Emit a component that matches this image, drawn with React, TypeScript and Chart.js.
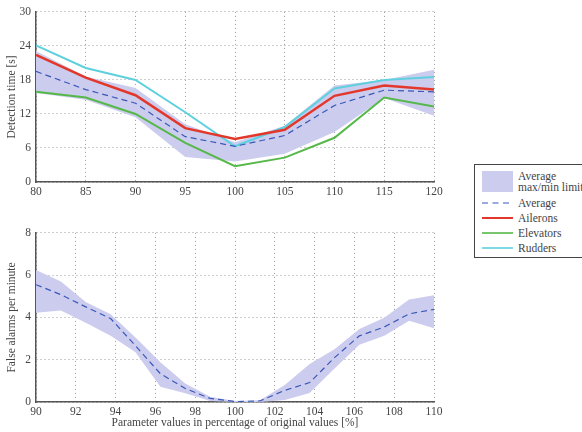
import React, { useEffect, useRef } from 'react';
import { Chart, registerables } from 'chart.js';

Chart.register(...registerables);

// ---- Data: top chart (detection time) ----
const topX = [80, 85, 90, 95, 100, 105, 110, 115, 120];
const topAvg = [19.5, 16.3, 13.9, 8.0, 6.3, 8.2, 13.5, 16.2, 15.9];
const topMax = [23.1, 18.6, 16.6, 10.2, 7.0, 9.9, 17.0, 18.0, 19.8];
const topMin = [15.7, 14.5, 11.4, 4.4, 3.6, 5.0, 8.8, 14.8, 11.7];
const ailerons = [22.4, 18.4, 15.3, 9.5, 7.6, 9.2, 15.2, 17.0, 16.3];
const elevators = [15.9, 14.9, 12.0, 6.9, 2.8, 4.3, 7.8, 14.9, 13.3];
const rudders = [24.1, 20.1, 18.0, 12.3, 6.3, 9.7, 16.5, 18.0, 18.5];

// ---- Data: bottom chart (false alarms) ----
const botX = [90, 91.25, 92.5, 93.75, 95, 96.25, 97.5, 98.75, 100, 101.25, 102.5, 103.75, 105, 106.25, 107.5, 108.75, 110];
const botAvg = [5.55, 5.08, 4.5, 3.95, 2.66, 1.34, 0.64, 0.17, 0.02, 0.05, 0.55, 0.92, 2.1, 3.13, 3.55, 4.17, 4.38];
const botMax = [6.25, 5.7, 4.73, 4.15, 3.05, 1.88, 0.87, 0.25, 0.05, 0.08, 0.8, 1.8, 2.5, 3.45, 3.99, 4.85, 5.05];
const botMin = [4.22, 4.33, 3.75, 3.13, 2.35, 0.72, 0.41, 0.05, 0, 0, 0.1, 0.43, 1.58, 2.71, 3.13, 3.84, 3.49];

const topTitle = 'Detection time [s]';
const botTitleY = 'False alarms per minute';
const botTitleX = 'Parameter values in percentage of original values [%]';
const legendLabels = ['Average', 'max/min limit', 'Average', 'Ailerons', 'Elevators', 'Rudders'];

const FONT = "'Liberation Serif', 'DejaVu Serif', serif";
const BAND = 'rgb(204,204,238)';
const BLUE = '#3a58b8';
const RED = '#e2382b';
const GREEN = '#55b849';
const CYAN = '#5fd0de';
const TEXT = '#444444';
const AXIS = '#555555';
const GRID = '#9a9a9a';

const pts = (xs: number[], ys: number[]) => xs.map((x, i) => ({ x, y: ys[i] }));

function makeScales(xmin: number, xmax: number, xstep: number, ymin: number, ymax: number, ystep: number, yTitle: string, xTitle: string | null, xHeight: number) {
  return {
    x: {
      type: 'linear' as const,
      min: xmin,
      max: xmax,
      ticks: { stepSize: xstep, color: TEXT, font: { family: FONT, size: 11.5 }, padding: 3, maxRotation: 0 },
      grid: { color: GRID, lineWidth: 1, drawTicks: false },
      border: { display: true, color: AXIS, width: 1.5, dash: [1, 3] },
      title: xTitle
        ? { display: true, text: xTitle, color: TEXT, font: { family: FONT, size: 11.5 }, padding: { top: 0, bottom: 2 } }
        : { display: false },
      afterFit: (s: any) => { s.height = xHeight; },
    },
    y: {
      type: 'linear' as const,
      min: ymin,
      max: ymax,
      ticks: { stepSize: ystep, color: TEXT, font: { family: FONT, size: 11.5 }, padding: 5 },
      grid: { color: GRID, lineWidth: 1, drawTicks: false },
      border: { display: true, color: AXIS, width: 1.5, dash: [1, 3] },
      title: { display: true, text: yTitle, color: TEXT, font: { family: FONT, size: 11.5 }, padding: { top: 5, bottom: 0 } },
      afterFit: (s: any) => { s.width = 36; },
    },
  };
}

function TopChart() {
  const ref = useRef<HTMLCanvasElement>(null);
  useEffect(() => {
    const chart = new Chart(ref.current!, {
      type: 'line',
      data: {
        datasets: [
          { data: pts(topX, topAvg), borderColor: BLUE, borderWidth: 1.2, borderDash: [6, 4], pointRadius: 0, fill: false },
          { data: pts(topX, ailerons), borderColor: RED, borderWidth: 2.5, pointRadius: 0, fill: false },
          { data: pts(topX, elevators), borderColor: GREEN, borderWidth: 2, pointRadius: 0, fill: false },
          { data: pts(topX, rudders), borderColor: CYAN, borderWidth: 2, pointRadius: 0, fill: false },
          { data: pts(topX, topMin), borderWidth: 0, borderColor: 'rgba(0,0,0,0)', pointRadius: 0, fill: false },
          { data: pts(topX, topMax), borderWidth: 0, borderColor: 'rgba(0,0,0,0)', backgroundColor: BAND, pointRadius: 0, fill: { target: 4 } },
        ],
      },
      options: {
        animation: false,
        responsive: false,
        events: [],
        layout: { padding: { left: 0, right: 16, top: 10, bottom: 0 } },
        plugins: { legend: { display: false }, tooltip: { enabled: false } },
        scales: makeScales(80, 120, 5, 0, 30, 6, topTitle, null, 18) as any,
      },
    });
    return () => chart.destroy();
  }, []);
  return <canvas ref={ref} width={450} height={200} style={{ position: 'absolute', left: 0, top: 0, width: 450, height: 200 }} />;
}

function BottomChart() {
  const ref = useRef<HTMLCanvasElement>(null);
  useEffect(() => {
    const chart = new Chart(ref.current!, {
      type: 'line',
      data: {
        datasets: [
          { data: pts(botX, botAvg), borderColor: BLUE, borderWidth: 1.2, borderDash: [6, 4], pointRadius: 0, fill: false },
          { data: pts(botX, botMin), borderWidth: 0, borderColor: 'rgba(0,0,0,0)', pointRadius: 0, fill: false },
          { data: pts(botX, botMax), borderWidth: 0, borderColor: 'rgba(0,0,0,0)', backgroundColor: BAND, pointRadius: 0, fill: { target: 1 } },
        ],
      },
      options: {
        animation: false,
        responsive: false,
        events: [],
        layout: { padding: { left: 0, right: 16, top: 10, bottom: 0 } },
        plugins: { legend: { display: false }, tooltip: { enabled: false } },
        scales: makeScales(90, 110, 2, 0, 8, 2, botTitleY, botTitleX, 30) as any,
      },
    });
    return () => chart.destroy();
  }, []);
  return <canvas ref={ref} width={450} height={211} style={{ position: 'absolute', left: 0, top: 221, width: 450, height: 211 }} />;
}

function Legend() {
  const txt: React.CSSProperties = { position: 'absolute', left: 43, fontFamily: FONT, fontSize: 11.5, color: TEXT, whiteSpace: 'nowrap', lineHeight: '12px' };
  const line = (top: number, color: string, dashed: boolean, w: number) => (
    <svg style={{ position: 'absolute', left: 7, top: top - 2, width: 31, height: 4 }} width={31} height={4}>
      <line x1={0} y1={2} x2={31} y2={2} stroke={color} strokeWidth={w} strokeDasharray={dashed ? '6 4.5' : undefined} />
    </svg>
  );
  return (
    <div style={{ position: 'absolute', left: 474, top: 164, width: 150, height: 92, border: '1px solid #444', background: '#fff' }}>
      <div style={{ position: 'absolute', left: 7, top: 6, width: 31, height: 21, background: BAND }} />
      <div style={{ ...txt, top: 11 - 6 }}>{legendLabels[0]}</div>
      <div style={{ ...txt, top: 22 - 6 }}>{legendLabels[1]}</div>
      {line(38, BLUE, true, 1.2)}
      <div style={{ ...txt, top: 38 - 6 }}>{legendLabels[2]}</div>
      {line(53, RED, false, 2)}
      <div style={{ ...txt, top: 53 - 6 }}>{legendLabels[3]}</div>
      {line(68, GREEN, false, 1.6)}
      <div style={{ ...txt, top: 68 - 6 }}>{legendLabels[4]}</div>
      {line(83, CYAN, false, 1.6)}
      <div style={{ ...txt, top: 83 - 6 }}>{legendLabels[5]}</div>
    </div>
  );
}

export default function App() {
  return (
    <div style={{ position: 'fixed', left: 0, top: 0, width: 582, height: 432, overflow: 'hidden', background: '#fff' }}>
      <TopChart />
      <BottomChart />
      <Legend />
    </div>
  );
}
